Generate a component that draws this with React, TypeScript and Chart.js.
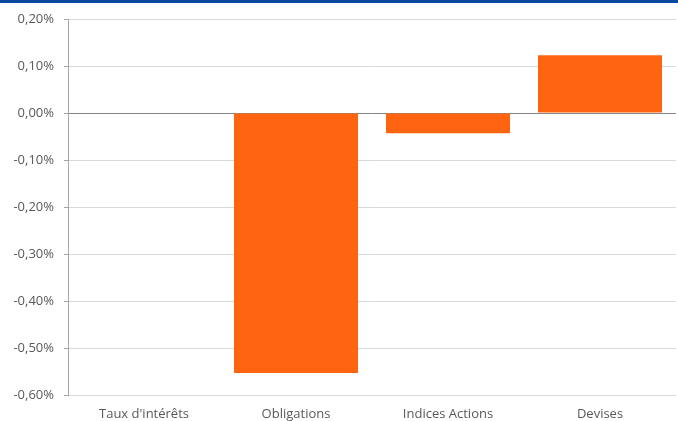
import React, { useEffect, useRef } from "react";
import { Chart, registerables } from "chart.js";
Chart.register(...registerables);

const categories = ["Taux d'intérêts", "Obligations", "Indices Actions", "Devises"];
const values = [0, -0.553, -0.043, 0.123];
const yTicks = [0.2, 0.1, 0, -0.1, -0.2, -0.3, -0.4, -0.5, -0.6];

const fmt = (v: number) => v.toFixed(2).replace(".", ",") + "%";

export default function App() {
  const ref = useRef<HTMLCanvasElement | null>(null);
  useEffect(() => {
    document.body.style.margin = "0";
    const ctx = ref.current!;
    const chart = new Chart(ctx, {
      type: "bar",
      data: {
        labels: categories,
        datasets: [
          {
            data: values,
            backgroundColor: "#ff6411",
            borderWidth: 0,
            categoryPercentage: 1,
            barPercentage: 0.816,
          },
        ],
      },
      options: {
        animation: false,
        responsive: false,
        devicePixelRatio: 1,
        layout: { padding: { top: 19, right: 2, left: 0, bottom: 0 } },
        plugins: { legend: { display: false }, tooltip: { enabled: false } },
        scales: {
          x: {
            grid: { display: false },
            border: { display: false },
            ticks: {
              color: "#595959",
              font: { family: "Open Sans", size: 13 },
              padding: 3,
              maxRotation: 0,
            },
            afterFit: (s: any) => {
              s.height = 26;
            },
          },
          y: {
            min: -0.6,
            max: 0.2,
            afterBuildTicks: (s: any) => {
              s.ticks = yTicks.map((v) => ({ value: v }));
            },
            grid: {
              color: (c: any) => (c.tick && Math.abs(c.tick.value) < 1e-9 ? "#868686" : "#d9d9d9"),
              lineWidth: 1,
              tickLength: 4,
              tickColor: "#a6a6a6",
            },
            border: { display: true, color: "#a6a6a6" },
            ticks: {
              color: "#595959",
              font: { family: "Open Sans", size: 13 },
              padding: 10,
              callback: (v: any) => fmt(Number(v)),
            },
            afterFit: (s: any) => {
              s.width = 68;
            },
          },
        },
      },
    });
    return () => chart.destroy();
  }, []);
  return (
    <div style={{ position: "relative", width: 678, height: 421, background: "#fff" }}>
      <div style={{ position: "absolute", left: 0, top: 0, width: 678, height: 3, background: "#0a4a9e" }} />
      <canvas ref={ref} width={678} height={421} style={{ display: "block" }} />
    </div>
  );
}
